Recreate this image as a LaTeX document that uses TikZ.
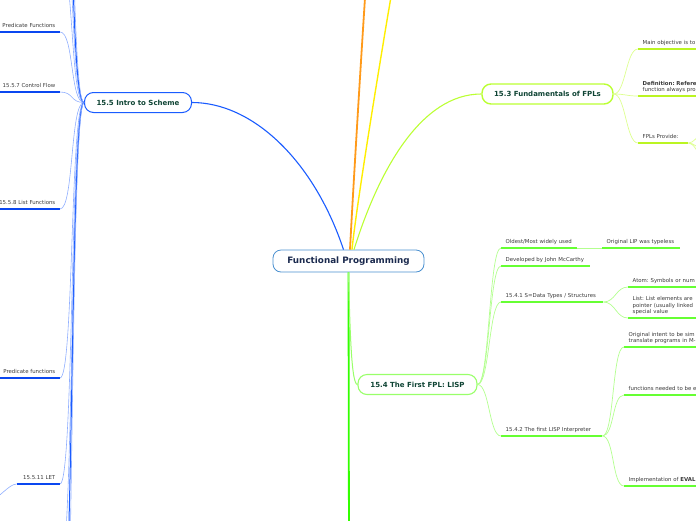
\documentclass[tikz,border=0pt]{standalone}
\usepackage{fontspec}
\setmainfont{DejaVu Sans}
\usetikzlibrary{positioning}
\frenchspacing
\definecolor{rootblue}{HTML}{4A90D0}
\definecolor{rootnavy}{HTML}{1B2A4E}
\definecolor{topicgreen}{HTML}{0F4434}
\definecolor{leafgray}{HTML}{3A3A3A}
\definecolor{schemeblue}{HTML}{1A5CFF}
\definecolor{schemesoft}{HTML}{8FAEFF}
\definecolor{schemedeep}{HTML}{0A47F0}
\definecolor{branchorange}{HTML}{FF9A1A}
\definecolor{branchyellow}{HTML}{FFEE00}
\definecolor{fundlime}{HTML}{BBFF33}
\definecolor{fundsoft}{HTML}{DDFF8F}
\definecolor{funddeep}{HTML}{BBF522}
\definecolor{lispvivid}{HTML}{33FF00}
\definecolor{lispnodegreen}{HTML}{99FF6A}
\definecolor{lispsoft}{HTML}{B3FF8F}
\definecolor{lispdeep}{HTML}{66FF33}
\newcommand\leafsize{\fontsize{5.4}{6.4}\selectfont\frenchspacing}
\tikzset{
  rootnode/.style={draw=rootblue,fill=white,line width=0.8pt,rounded corners=8pt,minimum width=151pt,minimum height=22pt,inner sep=0pt,text=rootnavy,font=\bfseries\fontsize{8.8}{10}\selectfont},
  topicnode/.style={fill=white,rounded corners=9pt,minimum height=20pt,inner sep=0pt,text=topicgreen,font=\bfseries\fontsize{7}{8}\selectfont},
  leafleft/.style={anchor=south east,text width=#1,align=right,inner xsep=4.5pt,inner ysep=2.3pt,execute at end node=\strut,text=leafgray,font=\leafsize},
  leafright/.style={anchor=south west,text width=#1,align=left,inner xsep=4.5pt,inner ysep=2.3pt,execute at end node=\strut,text=leafgray,font=\leafsize},
  schemelink/.style={schemesoft,line width=0.6pt},
  schemetrunk/.style={schemeblue,line width=1pt},
  schemeline/.style={schemedeep,line width=1.2pt},
  fundlink/.style={fundsoft,line width=0.7pt},
  fundline/.style={funddeep,line width=1.5pt},
  lisplink/.style={lispsoft,line width=0.7pt},
  lispline/.style={lispdeep,line width=1.5pt}
}
\begin{document}
\begin{tikzpicture}[x=1pt,y=-1pt]
  \useasboundingbox (0,0) rectangle (696,520);
  \clip (0,0) rectangle (696,520);
  \node[rootnode] (fp) at (348.5,261) {Functional Programming};
  \node[topicnode,draw=schemeblue,line width=1pt,minimum width=107pt] (scheme) at (138,102.5) {15.5 Intro to Scheme};
  \node[topicnode,draw=fundlime,line width=1.4pt,minimum width=131pt] (fund) at (547.5,94) {15.3 Fundamentals of FPLs};
  \node[topicnode,draw=lispnodegreen,line width=1.1pt,minimum width=119pt] (lisp) at (417.5,384.5) {15.4 The First FPL: LISP};
  \coordinate (orangeend) at (372,-100);
  \coordinate (yellowend) at (408,-100);
  \coordinate (greenend) at (349,560);
  \draw[schemeblue,line width=1.1pt] ([xshift=-5pt]fp.north) .. controls +(-30,-90) and +(60,0) .. (scheme.east);
  \draw[branchorange,line width=1.8pt] ([xshift=1.5pt]fp.north) .. controls +(3,-60) and +(-4,40) .. (orangeend);
  \draw[branchyellow,line width=1.4pt] ([xshift=3.5pt]fp.north) .. controls +(6,-60) and +(-8,40) .. (yellowend);
  \draw[fundlime,line width=1.1pt] ([xshift=5.5pt]fp.north) .. controls +(25,-80) and +(-60,0) .. (fund.west);
  \draw[lispvivid,line width=1.8pt] (fp.south) -- (greenend);
  \draw[lispnodegreen,line width=1pt] (fp.south) .. controls +(1.5,60) and +(-6,0) .. (lisp.west);
  % 15.5 Intro to Scheme
  \node[leafleft=70pt] (predf) at (60,32) {Predicate Functions};
  \node[leafleft=70pt] (ctrlflow) at (60,92) {15.5.7 Control Flow};
  \node[leafleft=70pt] (listfn) at (60,209) {15.5.8 List Functions};
  \node[leafleft=70pt] (predfn) at (60,378) {Predicate functions};
  \node[leafleft=34pt] (letexpr) at (60,484) {15.5.11 LET};
  \coordinate (schemeup1) at (60,-40);
  \coordinate (schemeup2) at (60,-110);
  \coordinate (schemeup3) at (60,-190);
  \coordinate (schemeup4) at (60,-300);
  \coordinate (schemedown1) at (60,570);
  \coordinate (schemedown2) at (60,650);
  \coordinate (schemedown3) at (60,760);
  \coordinate (letkid) at (-10,500);
  \draw[schemeline] (predf.south west) -- (predf.south east);
  \draw[schemeline] (ctrlflow.south west) -- (ctrlflow.south east);
  \draw[schemeline] (listfn.south west) -- (listfn.south east);
  \draw[schemeline] (predfn.south west) -- (predfn.south east);
  \draw[schemeline] (letexpr.south west) -- (letexpr.south east);
  \draw[schemelink] (scheme.west) .. controls +(-14,0) and +(14,0) .. (predf.south east);
  \draw[schemelink] (scheme.west) .. controls +(-14,0) and +(14,0) .. (ctrlflow.south east);
  \draw[schemelink] (scheme.west) .. controls +(-14,0) and +(14,0) .. (listfn.south east);
  \draw[schemelink] (scheme.west) .. controls +(-14,0) and +(14,0) .. (predfn.south east);
  \draw[schemelink] (scheme.west) .. controls +(-14,0) and +(14,0) .. (letexpr.south east);
  \draw[schemelink] (scheme.west) .. controls +(-14,0) and +(14,0) .. (schemeup1);
  \draw[schemelink] (scheme.west) .. controls +(-14,0) and +(14,0) .. (schemeup2);
  \draw[schemetrunk] (scheme.west) .. controls +(-14,0) and +(14,0) .. (schemeup3);
  \draw[schemelink] (scheme.west) .. controls +(-14,0) and +(14,0) .. (schemeup4);
  \draw[schemelink] (scheme.west) .. controls +(-14,0) and +(14,0) .. (schemedown1);
  \draw[schemetrunk] (scheme.west) .. controls +(-14,0) and +(14,0) .. (schemedown2);
  \draw[schemelink] (scheme.west) .. controls +(-14,0) and +(14,0) .. (schemedown3);
  \draw[schemelink] (letexpr.south west) .. controls +(-8,0) and +(8,0) .. (letkid);
  % 15.3 Fundamentals of FPLs
  \node[leafright=100pt] (mainobj) at (638,49) {Main objective is to};
  \node[leafright=100pt] (defn) at (638,96) {\textbf{Definition: Refere}\\function always pro};
  \node[leafright=41pt] (fplprov) at (638,143) {FPLs Provide:};
  \coordinate (provup) at (716,118);
  \coordinate (provmid) at (716,160);
  \coordinate (provdown) at (716,178);
  \draw[fundline] (mainobj.south west) -- (mainobj.south east);
  \draw[fundline] (defn.south west) -- (defn.south east);
  \draw[fundline] (fplprov.south west) -- (fplprov.south east);
  \draw[fundlink] (fund.east) .. controls +(12,0) and +(-12,0) .. (mainobj.south west);
  \draw[fundlink] (fund.east) .. controls +(12,0) and +(-12,0) .. (defn.south west);
  \draw[fundlink] (fund.east) .. controls +(12,0) and +(-12,0) .. (fplprov.south west);
  \draw[fundlink] (fplprov.south east) .. controls +(10,0) and +(-10,0) .. (provup);
  \draw[fundlink] (fplprov.south east) .. controls +(10,0) and +(-10,0) .. (provmid);
  \draw[fundlink] (fplprov.south east) .. controls +(10,0) and +(-10,0) .. (provdown);
  % 15.4 The First FPL: LISP
  \node[leafright=67pt] (oldest) at (501,248) {Oldest/Most widely used};
  \node[leafright=69pt] (lipless) at (602,248) {Original LIP was typeless};
  \node[leafright=80pt] (mccarthy) at (501,266) {Developed by John McCarthy};
  \node[leafright=93pt] (sdata) at (501,302) {15.4.1 S=Data Types / Structures};
  \node[leafright=100pt] (atomlf) at (628,287) {Atom: Symbols or num};
  \node[leafright=100pt] (listlf) at (628,318) {List: List elements are\\pointer (usually linked\\special value};
  \node[leafright=92pt] (interp) at (501,436) {15.4.2 The first LISP Interpreter};
  \node[leafright=100pt] (origint) at (624,347) {Original intent to be sim\\translate programs in M-};
  \node[leafright=100pt] (fnneed) at (624,395) {functions needed to be e};
  \node[leafright=100pt] (evalimpl) at (624,486) {Implementation of \textbf{EVAL}};
  \draw[lispline] (oldest.south west) -- (oldest.south east);
  \draw[lispline] (lipless.south west) -- (lipless.south east);
  \draw[lispline] (mccarthy.south west) -- (mccarthy.south east);
  \draw[lispline] (sdata.south west) -- (sdata.south east);
  \draw[lispline] (atomlf.south west) -- (atomlf.south east);
  \draw[lispline] (listlf.south west) -- (listlf.south east);
  \draw[lispline] (interp.south west) -- (interp.south east);
  \draw[lispline] (origint.south west) -- (origint.south east);
  \draw[lispline] (fnneed.south west) -- (fnneed.south east);
  \draw[lispline] (evalimpl.south west) -- (evalimpl.south east);
  \draw[lisplink] (lisp.east) .. controls +(12,0) and +(-12,0) .. (oldest.south west);
  \draw[lisplink] (lisp.east) .. controls +(12,0) and +(-12,0) .. (mccarthy.south west);
  \draw[lisplink] (lisp.east) .. controls +(12,0) and +(-12,0) .. (sdata.south west);
  \draw[lisplink] (lisp.east) .. controls +(12,0) and +(-12,0) .. (interp.south west);
  \draw[lisplink] (oldest.south east) -- (lipless.south west);
  \draw[lisplink] (sdata.south east) .. controls +(12,0) and +(-12,0) .. (atomlf.south west);
  \draw[lisplink] (sdata.south east) .. controls +(12,0) and +(-12,0) .. (listlf.south west);
  \draw[lisplink] (interp.south east) .. controls +(12,0) and +(-12,0) .. (origint.south west);
  \draw[lisplink] (interp.south east) .. controls +(12,0) and +(-12,0) .. (fnneed.south west);
  \draw[lisplink] (interp.south east) .. controls +(12,0) and +(-12,0) .. (evalimpl.south west);
\end{tikzpicture}
\end{document}
